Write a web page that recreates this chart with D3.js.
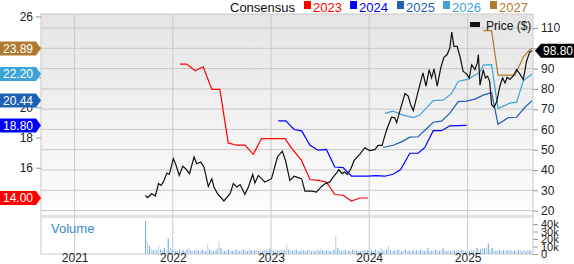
<!DOCTYPE html>
<html lang="en">
<head>
<meta charset="UTF-8">
<title>Price and Consensus</title>
<script src="https://d3js.org/d3.v7.min.js"></script>
<style>
  body { margin: 0; background: #fff; }
  svg { display: block; font-family: "Liberation Sans", Arial, sans-serif; }
  .tick line { stroke: #999; }
  .tick text { fill: #222; }
</style>
</head>
<body>
<svg width="574" height="264"></svg>
<script>
// price ($), right axis
const price = [
  ["2021-09-21",27.5],["2021-09-29",26.4],["2021-10-15",28.3],["2021-10-28",27.2],["2021-11-09",33.3],["2021-11-18",32.4],
  ["2021-11-27",34.1],["2021-12-10",38.5],["2021-12-19",37.8],["2022-01-03",45.6],["2022-01-13",42.3],["2022-01-25",37.3],
  ["2022-02-07",41.8],["2022-02-18",40.6],["2022-03-04",38.2],["2022-03-21",46.4],["2022-03-31",43.1],["2022-04-15",43.9],
  ["2022-04-27",41.4],["2022-05-13",31.9],["2022-05-26",35.7],["2022-06-03",31.6],["2022-06-16",28.3],["2022-07-10",24.7],
  ["2022-08-02",28.3],["2022-08-14",33.3],["2022-08-27",31.6],["2022-09-08",32.8],["2022-09-26",28.0],["2022-10-09",31.6],
  ["2022-10-25",37.8],["2022-11-02",33.6],["2022-11-15",37.3],["2022-12-03",34.9],["2022-12-09",34.1],["2023-01-03",35.7],
  ["2023-01-25",46.4],["2023-02-12",49.3],["2023-02-24",44.7],["2023-03-12",34.9],["2023-03-28",36.9],["2023-04-12",36.2],
  ["2023-04-25",35.7],["2023-05-07",29.6],["2023-06-01",29.6],["2023-06-19",29.1],["2023-07-08",31.9],["2023-07-22",33.3],
  ["2023-08-08",34.1],["2023-08-20",36.5],["2023-09-02",38.5],["2023-09-10",40.2],["2023-09-22",38.2],["2023-10-02",39.0],
  ["2023-10-12",37.8],["2023-10-25",40.6],["2023-11-06",44.7],["2023-11-27",47.7],["2023-12-16",51.0],["2024-01-03",49.6],
  ["2024-01-22",50.0],["2024-02-03",52.1],["2024-02-18",52.1],["2024-03-05",59.5],["2024-03-24",66.0],["2024-04-05",65.7],
  ["2024-04-12",63.3],["2024-04-24",69.0],["2024-05-13",77.7],["2024-05-25",76.4],["2024-06-03",72.3],["2024-06-13",69.3],
  ["2024-07-01",78.8],["2024-07-19",87.9],["2024-07-30",81.3],["2024-08-11",89.5],["2024-08-20",85.4],["2024-08-29",89.8],
  ["2024-09-10",81.3],["2024-09-23",90.3],["2024-10-05",95.5],["2024-10-17",96.9],["2024-10-27",100.2],["2024-11-03",108.0],
  ["2024-11-11",100.9],["2024-11-23",100.9],["2024-12-05",95.2],["2024-12-15",88.7],["2024-12-28",87.4],["2025-01-07",85.4],
  ["2025-01-16",91.9],["2025-01-28",89.5],["2025-02-06",92.8],["2025-02-10",96.9],["2025-02-16",81.8],["2025-02-28",89.5],
  ["2025-03-08",85.4],["2025-03-16",86.2],["2025-03-24",83.7],["2025-03-31",72.3],["2025-04-09",70.9],["2025-04-19",73.6],
  ["2025-05-01",81.3],["2025-05-11",85.4],["2025-05-20",82.9],["2025-05-28",85.7],["2025-06-07",84.6],["2025-06-20",86.5],
  ["2025-07-02",89.5],["2025-07-14",87.4],["2025-07-27",84.6],["2025-08-08",93.6],["2025-08-20",98.2],["2025-08-29",98.8]
];

// consensus EPS estimates, left axis
const eps2023 = [
  ["2022-01-28",22.85],["2022-02-22",22.85],["2022-03-25",22.41],["2022-04-24",22.68],["2022-05-26",21.18],["2022-06-25",21.18],
  ["2022-07-26",17.64],["2022-08-26",17.49],["2022-09-26",17.49],["2022-10-27",16.89],["2022-11-27",17.93],["2023-02-22",17.93],
  ["2023-03-24",17.16],["2023-04-24",16.5],["2023-05-26",15.22],["2023-06-25",15.17],["2023-07-26",15.06],["2023-08-26",14.23],
  ["2023-09-26",14.18],["2023-10-27",13.8],["2023-11-27",14.0],["2023-12-27",14.0]
];
const eps2024 = [
  ["2023-01-28",19.1],["2023-02-25",19.1],["2023-03-28",18.53],["2023-04-25",18.44],["2023-05-26",17.49],["2023-06-25",17.16],
  ["2023-07-26",17.21],["2023-08-26",16.05],["2023-09-26",16.01],["2023-10-27",15.44],["2023-11-27",15.44],["2023-12-27",15.44],
  ["2024-01-26",15.48],["2024-02-28",15.44],["2024-03-30",15.57],["2024-04-27",15.88],["2024-05-31",16.96],["2024-07-01",16.96],
  ["2024-07-26",17.34],["2024-08-26",18.45],["2024-09-26",18.45],["2024-10-27",18.77],["2024-12-28",18.8]
];
const eps2025 = [
  ["2024-02-22",17.34],["2024-03-30",17.49],["2024-04-30",17.71],["2024-05-31",18.02],["2024-07-01",18.05],["2024-07-26",18.48],
  ["2024-08-26",19.01],["2024-09-26",19.08],["2024-10-27",19.61],["2024-11-27",20.37],["2024-12-28",20.4],["2025-01-28",20.54],
  ["2025-02-28",20.8],["2025-03-31",20.97],["2025-04-24",18.88],["2025-06-01",19.31],["2025-07-02",19.34],["2025-08-02",20.0],
  ["2025-08-29",20.44]
];
const eps2026 = [
  ["2024-02-28",19.59],["2024-03-30",19.74],["2024-05-06",19.48],["2024-06-13",19.32],["2024-07-07",19.48],["2024-08-26",20.44],
  ["2024-10-02",20.47],["2024-11-02",20.9],["2024-11-27",21.7],["2025-01-03",21.86],["2025-02-16",22.32],["2025-02-28",22.79],
  ["2025-03-31",22.82],["2025-04-24",19.91],["2025-06-07",20.27],["2025-07-02",20.34],["2025-07-27",21.76],["2025-08-29",22.2]
];
const eps2027 = [
  ["2025-02-28",25.06],["2025-03-31",25.06],["2025-04-24",22.13],["2025-06-26",22.13],["2025-07-27",23.32],["2025-08-20",23.81],
  ["2025-08-29",23.89]
];

// weekly volume (thousands), from this date
const volumeStart = "2021-09-20";
const volume = [
  44,17,11,7,5,6,5,11,6,5,8,5,21,9,6,5,4,5,6,4,
  5,4,6,8,5,4,5,7,5,4,6,5,4,14,6,5,4,5,7,17,
  8,5,4,5,6,4,5,4,6,5,4,5,6,5,4,7,5,4,5,6,
  4,5,4,6,5,4,7,5,4,6,5,4,5,6,5,13,6,5,4,5,
  6,5,4,7,5,4,5,6,4,5,4,6,5,7,5,4,5,6,4,5,
  6,24,8,5,4,5,6,4,5,4,6,5,4,5,4,6,5,4,5,6,
  5,4,6,5,4,8,5,4,6,11,5,4,5,4,6,5,4,5,6,4,
  5,4,6,4,5,4,6,5,4,5,8,4,5,4,6,5,4,5,8,5,
  4,5,4,6,5,4,5,4,6,5,4,5,4,6,5,4,8,5,7,8,
  8,9,14,6,8,5,4,5,6,4,5,4,5,6,5,4,5,4,6,5,
  4,5,4,6,5,4
];

const series = [
  {name: "2023", color: "#ff0000", data: eps2023},
  {name: "2024", color: "#0000ff", data: eps2024},
  {name: "2025", color: "#1f60b4", data: eps2025},
  {name: "2026", color: "#3ea4d6", data: eps2026},
  {name: "2027", color: "#b07b30", data: eps2027}
];

const priceTicks = [20, 30, 40, 50, 60, 70, 80, 90, 100, 110];
const epsTicks = [14, 16, 18, 20, 22, 24, 26];
const epsLabels = [16, 18, 20, 26]; // the rest sit under the value badges
const volTicks = [0, 10, 20, 30, 40];
const years = ["2021", "2022", "2023", "2024", "2025"];

const svg = d3.select("svg");
const L = 41, R = 533, T = 14, B = 215, VT = 218, VB = 254;
const parse = d3.utcParse("%Y-%m-%d");

const x = d3.scaleUtc().domain([parse("2020-08-29"), parse("2025-09-01")]).range([L, R]);
const yP = d3.scaleLinear().domain([17.8, 116.9]).range([B, T]);
const yE = d3.scaleLinear().domain([12.876, 26.165]).range([B, T]);
const yV = d3.scaleLinear().domain([0, 40]).range([VB, VT + 6]);

// background
const defs = svg.append("defs");
const grad = defs.append("linearGradient").attr("id", "bg").attr("x1", 0).attr("y1", 0).attr("x2", 0).attr("y2", 1);
grad.append("stop").attr("offset", "0%").attr("stop-color", "#e5e5e5");
grad.append("stop").attr("offset", "100%").attr("stop-color", "#fdfdfd");
svg.append("rect").attr("x", L).attr("y", T).attr("width", R - L).attr("height", B - T).attr("fill", "url(#bg)");
svg.append("rect").attr("x", L).attr("y", B).attr("width", R - L).attr("height", VT - B).attr("fill", "#e2e2e2");

// grid
svg.append("g").selectAll("line").data(priceTicks).join("line")
  .attr("x1", L).attr("x2", R).attr("y1", d => yP(d)).attr("y2", d => yP(d))
  .attr("stroke", "#c9c9c9");
svg.append("g").selectAll("line").data(years).join("line")
  .attr("x1", d => x(parse(d + "-01-01"))).attr("x2", d => x(parse(d + "-01-01")))
  .attr("y1", T).attr("y2", VB).attr("stroke", "#c9c9c9");
svg.append("path").attr("d", `M${L},${VB}V${T}H${R}V${VB}H${L}`).attr("fill", "none").attr("stroke", "#c9c9c9");

// volume bars
const v0 = parse(volumeStart);
svg.append("g").selectAll("rect").data(volume).join("rect")
  .attr("x", (d, i) => x(d3.utcDay.offset(v0, i * 7)))
  .attr("width", 1)
  .attr("y", d => yV(d))
  .attr("height", d => VB - yV(d))
  .attr("fill", (d, i) => i % 2 ? "#b3d1ee" : "#6ea7dc");

svg.append("text").attr("x", 51).attr("y", 233).attr("font-size", 13)
  .attr("fill", "#3b88c9").text("Volume");

// consensus lines
const lineE = d3.line().x(d => x(parse(d[0]))).y(d => yE(d[1]));
svg.append("g").selectAll("path").data(series).join("path")
  .attr("d", d => lineE(d.data)).attr("fill", "none")
  .attr("stroke", d => d.color).attr("stroke-width", 1.2);

// price line
const lineP = d3.line().x(d => x(parse(d[0]))).y(d => yP(d[1]));
svg.append("path").attr("d", lineP(price)).attr("fill", "none")
  .attr("stroke", "#111").attr("stroke-width", 1.2);

// axes
const axR = svg.append("g").attr("transform", `translate(${R},0)`)
  .call(d3.axisRight(yP).tickValues(priceTicks).tickSize(5).tickPadding(3));
const axV = svg.append("g").attr("transform", `translate(${R},0)`)
  .call(d3.axisRight(yV).tickValues(volTicks).tickSize(5).tickPadding(3)
    .tickFormat(d => d ? d + "k" : "0"));
const axL = svg.append("g").attr("transform", `translate(${L},0)`)
  .call(d3.axisLeft(yE).tickValues(epsTicks).tickSize(5).tickPadding(3)
    .tickFormat(d => epsLabels.includes(d) ? d : ""));
const axX = svg.append("g").attr("transform", `translate(0,${VB})`)
  .call(d3.axisBottom(x).tickValues(years.map(y => parse(y + "-01-01"))).tickSize(0).tickPadding(0)
    .tickFormat(d3.utcFormat("%Y")));
[axR, axV, axL, axX].forEach(g => {
  g.select(".domain").remove();
  g.selectAll("text").attr("font-size", 12).attr("font-family", "Liberation Sans, Arial, sans-serif");
});
axV.selectAll("text").attr("font-size", 11);
axX.selectAll("text").attr("dy", "0.68em");

// legend
const leg = svg.append("g").attr("font-size", 13);
leg.append("text").attr("x", 230).attr("y", 12).attr("fill", "#111").text("Consensus");
const legX = [304, 350, 397, 443, 490];
series.forEach((s, i) => {
  leg.append("rect").attr("x", legX[i]).attr("y", 1).attr("width", 7).attr("height", 8).attr("fill", s.color);
  leg.append("text").attr("x", legX[i] + 9).attr("y", 12).attr("fill", s.color).text(s.name);
});
svg.append("rect").attr("x", 470).attr("y", 22).attr("width", 10).attr("height", 5).attr("fill", "#111");
svg.append("text").attr("x", 486).attr("y", 30).attr("font-size", 12).attr("fill", "#111").text("Price ($)");

// value badges
const fmt = d3.format(".2f");
series.forEach(s => {
  const v = s.data[s.data.length - 1][1];
  const c = yE(v);
  svg.append("path").attr("d", `M0,${c - 7}H36L41,${c}L36,${c + 7}H0Z`).attr("fill", s.color);
  svg.append("text").attr("x", 3).attr("y", c + 4.5).attr("font-size", 12).attr("fill", "#fff").text(fmt(v));
});
const last = price[price.length - 1][1];
const pc = yP(last);
svg.append("path").attr("d", `M535,${pc}L541,${pc - 7}H574V${pc + 7}H541Z`).attr("fill", "#000");
svg.append("text").attr("x", 543).attr("y", pc + 4.5).attr("font-size", 12).attr("fill", "#fff").text(fmt(last));
</script>
</body>
</html>
